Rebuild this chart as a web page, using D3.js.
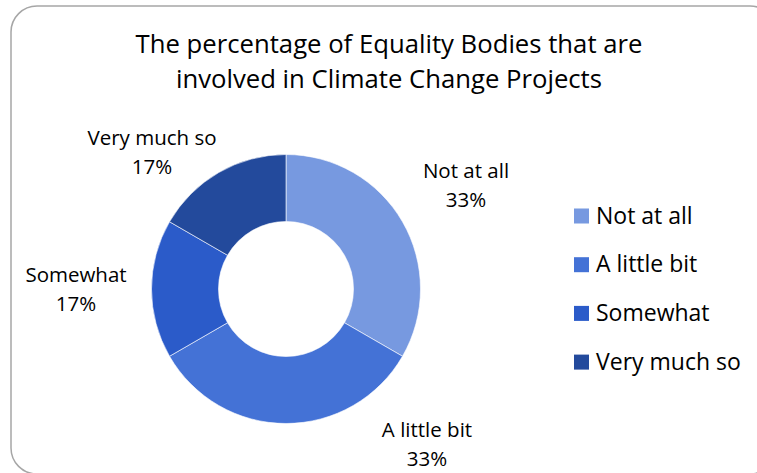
<!DOCTYPE html>
<html>
<head>
<meta charset="utf-8">
<script src="https://cdn.jsdelivr.net/npm/d3@7"></script>
<style>
  html, body { margin: 0; padding: 0; background: #fff; }
  svg { display: block; }
  text { font-family: "Open Sans", Lato, sans-serif; fill: #000; }
</style>
</head>
<body>
<svg id="chart" width="757" height="473"></svg>
<script>
const titleLines = ["The percentage of Equality Bodies that are", "involved in Climate Change Projects"];
const categories = ["Not at all", "A little bit", "Somewhat", "Very much so"];
const values = [2, 2, 1, 1];
const colors = ["#7799E0", "#4472D6", "#2B5BC9", "#234A9C"];

// label layout (offset of first-line baseline from donut centre)
const labelOffsets = [[180, -111], [141, 148], [-210, -7], [-134, -144]];

const W = 757, H = 473;
const cx = 286, cy = 289, rOuter = 134.5, rInner = 67.5;

const svg = d3.select("#chart");

svg.append("rect")
  .attr("x", 11).attr("y", 6)
  .attr("width", 765).attr("height", 468)
  .attr("rx", 26).attr("ry", 26)
  .attr("fill", "#fff")
  .attr("stroke", "#a6a6a6").attr("stroke-width", 1.5);

svg.append("g").selectAll("text")
  .data(titleLines).join("text")
  .attr("x", 389).attr("y", (d, i) => 53 + i * 35)
  .attr("text-anchor", "middle")
  .attr("font-size", 25.7)
  .text(d => d);

const total = d3.sum(values);
const pie = d3.pie().sort(null).value(d => d)(values);
const arc = d3.arc().innerRadius(rInner).outerRadius(rOuter);

const g = svg.append("g").attr("transform", `translate(${cx},${cy})`);
g.selectAll("path").data(pie).join("path")
  .attr("d", arc)
  .attr("fill", (d, i) => colors[i])
  .attr("stroke", "#fff").attr("stroke-width", 0.6);

const fmt = v => Math.round(v / total * 100) + "%";
const lbl = g.selectAll("g.lbl").data(pie).join("g").attr("class", "lbl")
  .attr("transform", (d, i) => `translate(${labelOffsets[i][0]},${labelOffsets[i][1]})`);
lbl.append("text").attr("text-anchor", "middle").attr("font-size", 20.5)
  .text((d, i) => categories[i]);
lbl.append("text").attr("text-anchor", "middle").attr("font-size", 20.5)
  .attr("y", 29).text(d => fmt(d.data));

const leg = svg.append("g").selectAll("g").data(categories).join("g")
  .attr("transform", (d, i) => `translate(574,${216 + i * 48.7})`);
leg.append("rect").attr("x", 0).attr("y", -7.5).attr("width", 15).attr("height", 15)
  .attr("fill", (d, i) => colors[i]);
leg.append("text").attr("x", 22).attr("y", 7.5).attr("font-size", 23).text(d => d);
</script>
</body>
</html>
